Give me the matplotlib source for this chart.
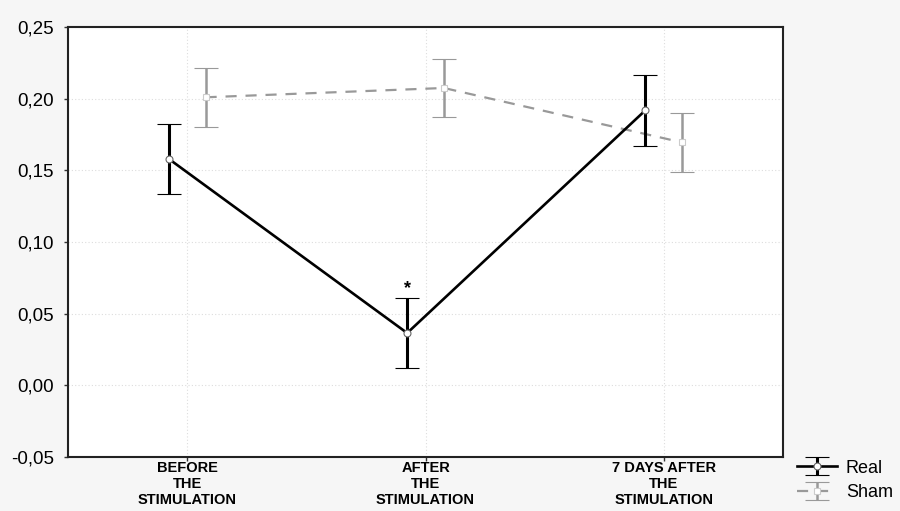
import matplotlib
matplotlib.use("Agg")
import matplotlib.pyplot as plt
import numpy as np

# category labels and group means / error half-widths
categories = ["BEFORE\nTHE\nSTIMULATION", "AFTER\nTHE\nSTIMULATION", "7 DAYS AFTER\nTHE\nSTIMULATION"]
real_mean = [0.158, 0.0365, 0.192]
real_err = [0.0245, 0.0243, 0.0247]
sham_mean = [0.201, 0.2075, 0.1695]
sham_err = [0.0205, 0.0205, 0.0207]
y_ticks = [-0.05, 0.00, 0.05, 0.10, 0.15, 0.20, 0.25]

x = np.arange(len(categories))
shift = 0.077

fig = plt.figure(figsize=(9, 5.11), dpi=100, facecolor="#f6f6f6")
ax = fig.add_axes([0.0756, 0.1057, 0.7944, 0.8413])
ax.set_facecolor("white")

real = ax.errorbar(x - shift, real_mean, yerr=real_err, color="black", lw=1.9,
                   elinewidth=2.2, capsize=8.5, capthick=2.2, marker="o", ms=5,
                   mfc="white", mec="#666666", mew=0.8, label="Real", zorder=3)
sham = ax.errorbar(x + shift, sham_mean, yerr=sham_err, color="#999999", lw=1.6,
                   ls=(0, (5, 4)), elinewidth=1.8, capsize=8.5, capthick=1.8,
                   marker="s", ms=5, mfc="white", mec="#cccccc", mew=0.8,
                   label="Sham", zorder=2)

ax.annotate("*", xy=(x[1] - shift, real_mean[1] + real_err[1]), xytext=(0, 1),
            textcoords="offset points", ha="center", va="bottom", fontsize=13,
            family="Liberation Sans", fontweight="bold")

ax.set_xlim(-0.5, 2.5)
ax.set_ylim(-0.05, 0.25)
ax.set_xticks(x)
ax.set_xticklabels(categories, family=["Liberation Sans Narrow", "Liberation Sans"],
                   fontweight="bold", fontsize=10.5, linespacing=1.17)
ax.set_yticks(y_ticks)
ax.set_yticklabels([f"{v:.2f}".replace(".", ",") for v in y_ticks],
                   family="Liberation Sans", fontsize=13.5)
ax.tick_params(axis="both", direction="out", length=3, width=1, color="#333333")
ax.tick_params(axis="y", pad=7)
ax.tick_params(axis="x", pad=0.2)

ax.grid(True, ls=(0, (1, 2)), color="#dddddd", lw=0.8)
ax.set_axisbelow(True)
for sp in ax.spines.values():
    sp.set_linewidth(1.5)
    sp.set_color("#222222")

leg = fig.legend(handles=[real, sham], loc="lower right", bbox_to_anchor=(1.01, -0.012),
                 frameon=False, prop={"family": "Liberation Sans", "size": 13},
                 handlelength=2.2, handletextpad=0.5, labelspacing=0.4)

fig.savefig("out.png", dpi=100, facecolor=fig.get_facecolor())
